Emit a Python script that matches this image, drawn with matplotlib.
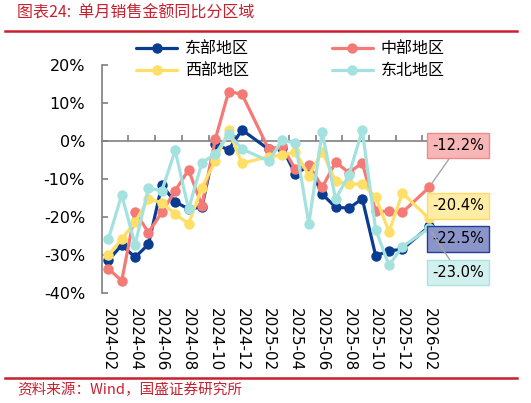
import matplotlib
matplotlib.use('Agg')
import matplotlib.pyplot as plt
import numpy as np
from matplotlib.lines import Line2D

plt.rcParams['font.family'] = ['Noto Sans CJK SC', 'DejaVu Sans']

# 月份（2025-01、2026-01 无单月数据）
months = ['2024-02', '2024-03', '2024-04', '2024-05', '2024-06', '2024-07',
          '2024-08', '2024-09', '2024-10', '2024-11', '2024-12', '2025-01',
          '2025-02', '2025-03', '2025-04', '2025-05', '2025-06', '2025-07',
          '2025-08', '2025-09', '2025-10', '2025-11', '2025-12', '2026-01',
          '2026-02']
nan = np.nan
east = [-31.4, -27.4, -30.6, -27.2, -11.7, -16.0, -17.9, -17.4, -0.9, -2.3, 2.9, nan,
        -2.2, -1.8, -8.7, -6.5, -14.0, -17.4, -17.7, -15.2, -30.2, -28.9, -28.5, nan, -22.5]
central = [-33.6, -36.8, -18.6, -24.1, -18.8, -13.1, -7.6, -17.0, 0.4, 13.0, 12.3, nan,
           -2.2, -1.4, -7.5, -6.2, -12.2, -5.6, -8.3, -5.8, -18.5, -18.5, -18.8, nan, -12.2]
west = [-30.1, -25.8, -21.3, -15.3, -16.2, -19.2, -21.8, -12.3, -5.2, 2.8, -5.9, nan,
        -4.1, -3.8, -2.9, -9.1, -2.8, -10.6, -11.4, -11.3, -14.7, -23.9, -13.7, nan, -20.4]
northeast = [-25.8, -14.2, -27.3, -12.4, -13.1, -2.5, -17.9, -5.7, -3.5, 1.8, -2.1, nan,
             -5.3, 0.2, -0.6, -21.8, 2.3, -15.3, -8.9, 2.8, -23.3, -32.7, -27.8, nan, -23.0]

names = ['东部地区', '中部地区', '西部地区', '东北地区']
series = [east, central, west, northeast]
colors = ['#0A3C91', '#F47A76', '#FFDF66', '#A3E2DE']
box_face = ['#8B95C9', '#F8B6B6', '#FFEDA6', '#D2F1EE']
box_edge = ['#1F3F9A', '#F08A8A', '#FFD966', '#A8E4E0']
box_offset = [-9, 30, 9, -32]   # label box vertical offsets (pt)

red = '#C8202F'

fig = plt.figure(figsize=(5.31, 4.03), dpi=100)
ax = fig.add_axes([0.1915, 0.2730, 0.6292, 0.5658])

x = np.arange(len(months))
handles = []
for name, vals, c in zip(names, series, colors):
    v = np.array(vals, dtype=float)
    ok = ~np.isnan(v)
    h, = ax.plot(x[ok], v[ok], color=c, lw=2.3, marker='o', ms=7.5,
                 mec='none', label=name, solid_capstyle='round')
    handles.append(h)

ax.set_xlim(-0.5, len(months) - 0.5)
ax.set_ylim(-40, 20)
ax.set_yticks(np.arange(-40, 21, 10))
ax.set_yticklabels([f'{t}%' for t in range(-40, 21, 10)], family='DejaVu Sans', fontsize=11.5)

for s in ['top', 'right']:
    ax.spines[s].set_visible(False)
ax.spines['left'].set_color('#7F7F7F')
ax.spines['left'].set_linewidth(1.2)
ax.spines['bottom'].set_position(('data', 0))
ax.spines['bottom'].set_color('#7F7F7F')
ax.spines['bottom'].set_linewidth(1.2)
ax.spines['bottom'].set_zorder(0.5)

ax.set_xticks(np.arange(1.5, len(months) - 1, 2))
ax.set_xticklabels([])
ax.tick_params(axis='x', direction='in', length=4, width=1.2, color='#7F7F7F')
ax.tick_params(axis='y', direction='in', length=4, width=1.2, color='#7F7F7F', pad=12)

sec = ax.secondary_xaxis('bottom')
sec.set_xticks(x[::2])
sec.set_xticklabels(months[::2], family='DejaVu Sans', fontsize=11, rotation=-90)
sec.tick_params(length=0, pad=11)
sec.spines['bottom'].set_visible(False)

# 末值标签
order = [1, 2, 0, 3]
for i in order:
    last = series[i][-1]
    ax.annotate(f'{last:.1f}%', xy=(x[-1], last), xytext=(21, box_offset[i]),
                textcoords='offset points', ha='center', va='center',
                family='DejaVu Sans', fontsize=10.5, color='black',
                bbox=dict(boxstyle='square,pad=0.35', fc=box_face[i], ec=box_edge[i], lw=1),
                arrowprops=dict(arrowstyle='-', color='#A6A6A6', lw=1, shrinkA=0, shrinkB=3),
                annotation_clip=False, zorder=5)

leg = fig.legend([handles[0], handles[2], handles[1], handles[3]],
                 [names[0], names[2], names[1], names[3]],
                 loc='upper left', bbox_to_anchor=(0.256, 0.90), ncol=2,
                 frameon=False, fontsize=11.5, borderpad=0, borderaxespad=0,
                 handlelength=2.6, handletextpad=0.45, columnspacing=5.2,
                 labelspacing=0.3)

fig.text(17 / 531, 1 - 13 / 403, '图表24:  单月销售金额同比分区域', color=red,
         fontsize=11.5, va='center', ha='left')
fig.text(17 / 531, 1 - 390 / 403, '资料来源：Wind，国盛证券研究所', color=red,
         fontsize=10.5, va='center', ha='left')
for yy in [1 - 31 / 403, 1 - 378 / 403]:
    fig.add_artist(Line2D([5 / 531, 517 / 531], [yy, yy], color=red, lw=1.8,
                          transform=fig.transFigure))

fig.savefig('out.png', dpi=100)
